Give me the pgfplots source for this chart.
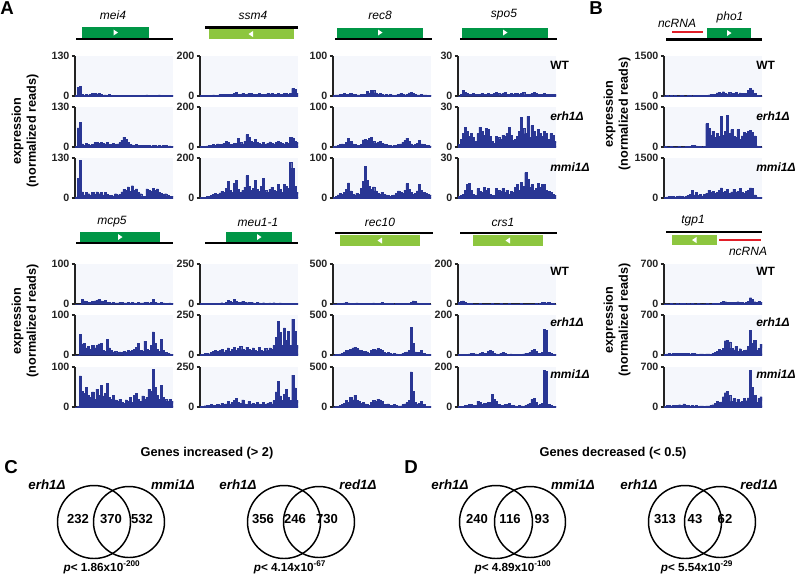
\documentclass[border=0pt]{standalone}
\usepackage{pgfplots}
\usepackage{pgfplotstable}
\pgfplotsset{compat=1.18}
\usepackage{fontspec}
\setmainfont{Liberation Sans}
\definecolor{barblue}{RGB}{41,54,148}
\definecolor{bgc}{RGB}{245,247,252}
\definecolor{dgreen}{RGB}{0,150,70}
\definecolor{lgreen}{RGB}{141,198,63}
\definecolor{ncred}{RGB}{225,30,40}
\definecolor{axc}{RGB}{35,35,35}
\newlength\pxu \setlength\pxu{0.75pt}

% ---------- data (48 bins per track) ----------
\pgfplotstableread[row sep=\\]{y\\2\\28\\32\\6\\3\\5\\4\\5\\8\\9\\7\\8\\6\\3\\4\\2\\5\\2\\2\\3\\2\\2\\3\\2\\2\\2\\3\\2\\2\\2\\3\\2\\2\\2\\4\\2\\2\\2\\2\\2\\4\\2\\2\\2\\2\\2\\2\\1\\}\tMeiA
\pgfplotstableread[row sep=\\]{y\\3\\62\\80\\10\\6\\12\\8\\5\\8\\14\\16\\12\\15\\12\\10\\14\\9\\8\\12\\8\\10\\14\\22\\32\\26\\14\\8\\7\\6\\8\\5\\5\\6\\5\\6\\5\\4\\5\\6\\4\\5\\4\\5\\6\\3\\4\\3\\2\\}\tMeiB
\pgfplotstableread[row sep=\\]{y\\4\\65\\122\\20\\10\\18\\14\\10\\18\\12\\20\\14\\18\\10\\19\\12\\8\\9\\7\\14\\10\\12\\20\\28\\24\\36\\22\\40\\26\\30\\18\\14\\6\\5\\30\\26\\22\\32\\24\\30\\18\\15\\12\\14\\8\\6\\5\\3\\}\tMeiC
\pgfplotstableread[row sep=\\]{y\\2\\2\\3\\3\\4\\5\\6\\5\\4\\8\\10\\8\\7\\9\\10\\8\\12\\20\\10\\8\\12\\10\\8\\14\\12\\9\\8\\10\\12\\9\\8\\10\\12\\9\\14\\10\\8\\12\\9\\10\\14\\12\\10\\15\\38\\32\\12\\6\\}\tSsmA
\pgfplotstableread[row sep=\\]{y\\3\\3\\4\\6\\8\\10\\12\\10\\16\\14\\12\\20\\28\\22\\12\\14\\18\\20\\45\\22\\16\\30\\62\\48\\28\\24\\38\\22\\18\\15\\24\\14\\20\\26\\18\\16\\22\\30\\24\\18\\16\\22\\18\\50\\46\\30\\22\\10\\}\tSsmB
\pgfplotstableread[row sep=\\]{y\\3\\4\\5\\8\\10\\14\\20\\24\\18\\26\\35\\28\\50\\82\\40\\30\\75\\88\\45\\30\\38\\55\\112\\60\\40\\48\\90\\45\\35\\60\\98\\40\\30\\45\\55\\40\\35\\70\\45\\30\\68\\60\\50\\178\\150\\60\\30\\12\\}\tSsmC
\pgfplotstableread[row sep=\\]{y\\2\\3\\3\\4\\5\\6\\5\\4\\7\\5\\4\\3\\3\\4\\5\\4\\12\\8\\14\\15\\8\\5\\6\\4\\3\\4\\3\\5\\3\\2\\3\\4\\6\\5\\3\\4\\8\\10\\6\\4\\3\\3\\4\\3\\3\\2\\2\\1\\}\tRecA
\pgfplotstableread[row sep=\\]{y\\2\\3\\4\\6\\8\\7\\12\\22\\14\\8\\6\\5\\4\\6\\18\\20\\16\\22\\24\\14\\10\\12\\14\\10\\8\\6\\5\\4\\3\\4\\5\\6\\8\\12\\16\\22\\14\\8\\5\\6\\10\\16\\8\\6\\5\\4\\3\\2\\}\tRecB
\pgfplotstableread[row sep=\\]{y\\2\\5\\8\\12\\10\\15\\22\\38\\18\\10\\8\\12\\10\\25\\42\\80\\45\\30\\22\\28\\18\\12\\10\\14\\10\\8\\6\\5\\6\\8\\12\\18\\15\\12\\20\\36\\22\\15\\10\\12\\18\\35\\20\\15\\12\\10\\8\\4\\}\tRecC
\pgfplotstableread[row sep=\\]{y\\0\\1\\4\\3\\2\\1\\1\\2\\1\\1\\1\\2\\1\\1\\2\\1\\1\\2\\3\\2\\1\\2\\3\\1\\1\\2\\1\\2\\2\\1\\2\\3\\1\\1\\1\\2\\3\\2\\1\\1\\1\\2\\1\\1\\1\\1\\1\\0\\}\tSpoA
\pgfplotstableread[row sep=\\]{y\\2\\6\\10\\15\\12\\8\\10\\7\\4\\10\\15\\12\\9\\14\\13\\8\\4\\3\\8\\7\\6\\9\\8\\10\\15\\9\\5\\6\\8\\12\\22\\14\\10\\23\\7\\16\\12\\8\\13\\10\\8\\12\\10\\6\\10\\9\\4\\2\\}\tSpoB
\pgfplotstableread[row sep=\\]{y\\1\\2\\3\\6\\10\\11\\6\\3\\2\\7\\5\\4\\8\\6\\7\\3\\2\\2\\7\\6\\5\\7\\4\\6\\3\\5\\4\\8\\10\\6\\12\\9\\19\\14\\8\\10\\6\\7\\11\\8\\10\\10\\6\\5\\4\\3\\2\\1\\}\tSpoC
\pgfplotstableread[row sep=\\]{y\\0\\0\\0\\12\\8\\6\\5\\4\\6\\8\\10\\12\\8\\6\\10\\5\\4\\3\\4\\3\\3\\4\\5\\3\\3\\4\\3\\5\\3\\2\\4\\3\\3\\5\\4\\3\\4\\12\\5\\3\\2\\4\\3\\2\\2\\3\\2\\0\\}\tMcpA
\pgfplotstableread[row sep=\\]{y\\0\\0\\52\\28\\30\\18\\22\\15\\25\\18\\24\\28\\30\\12\\10\\40\\18\\12\\8\\10\\6\\8\\7\\10\\8\\12\\9\\12\\14\\20\\30\\12\\10\\35\\15\\12\\25\\58\\30\\14\\10\\40\\12\\6\\4\\3\\2\\0\\}\tMcpB
\pgfplotstableread[row sep=\\]{y\\0\\2\\78\\40\\35\\50\\30\\25\\38\\20\\45\\30\\55\\28\\35\\60\\25\\20\\30\\18\\15\\20\\12\\10\\18\\15\\25\\12\\30\\35\\20\\15\\28\\20\\25\\45\\40\\95\\50\\30\\20\\55\\25\\20\\15\\20\\15\\5\\}\tMcpC
\pgfplotstableread[row sep=\\]{y\\3\\4\\4\\5\\4\\5\\6\\5\\6\\5\\8\\6\\10\\25\\15\\12\\28\\15\\10\\12\\18\\10\\8\\12\\9\\8\\6\\10\\7\\6\\8\\6\\5\\7\\6\\8\\5\\6\\7\\5\\4\\6\\5\\4\\3\\4\\3\\2\\}\tMeuA
\pgfplotstableread[row sep=\\]{y\\5\\6\\10\\12\\8\\15\\25\\30\\22\\28\\35\\20\\30\\45\\25\\35\\50\\30\\40\\55\\35\\30\\50\\35\\28\\45\\30\\25\\48\\30\\25\\40\\28\\45\\35\\60\\110\\210\\140\\60\\170\\90\\150\\60\\225\\150\\60\\20\\}\tMeuB
\pgfplotstableread[row sep=\\]{y\\4\\6\\8\\10\\12\\15\\10\\12\\18\\12\\25\\15\\20\\35\\20\\30\\40\\55\\30\\25\\45\\20\\18\\35\\20\\25\\18\\30\\20\\15\\28\\18\\22\\30\\20\\40\\95\\160\\70\\40\\80\\110\\60\\40\\200\\120\\40\\10\\}\tMeuC
\pgfplotstableread[row sep=\\]{y\\2\\3\\5\\8\\10\\15\\18\\15\\10\\12\\8\\15\\12\\6\\5\\4\\8\\6\\10\\15\\12\\10\\8\\20\\12\\6\\5\\4\\5\\3\\4\\5\\6\\4\\5\\8\\10\\20\\40\\30\\15\\10\\8\\6\\5\\4\\3\\2\\}\tRtenA
\pgfplotstableread[row sep=\\]{y\\3\\5\\10\\15\\25\\40\\55\\60\\75\\90\\100\\80\\65\\55\\50\\45\\40\\20\\55\\70\\65\\80\\75\\60\\30\\25\\35\\20\\15\\20\\15\\12\\10\\25\\30\\40\\60\\350\\150\\40\\30\\35\\60\\25\\10\\8\\5\\3\\}\tRtenB
\pgfplotstableread[row sep=\\]{y\\3\\6\\12\\20\\35\\50\\80\\60\\120\\90\\150\\85\\70\\50\\60\\40\\30\\25\\60\\85\\70\\100\\90\\70\\35\\30\\40\\25\\20\\30\\20\\15\\15\\30\\40\\55\\80\\440\\200\\60\\40\\45\\70\\30\\12\\8\\5\\3\\}\tRtenC
\pgfplotstableread[row sep=\\]{y\\8\\14\\16\\10\\4\\2\\2\\1\\1\\1\\2\\1\\1\\1\\1\\1\\2\\1\\1\\1\\2\\1\\1\\1\\2\\1\\1\\1\\1\\1\\2\\1\\1\\1\\1\\1\\1\\2\\1\\2\\8\\7\\6\\8\\4\\2\\1\\1\\}\tCrsA
\pgfplotstableread[row sep=\\]{y\\2\\3\\3\\4\\5\\6\\8\\10\\6\\5\\8\\12\\10\\8\\18\\25\\20\\10\\6\\5\\8\\12\\8\\5\\4\\6\\5\\4\\3\\4\\5\\6\\8\\10\\15\\25\\30\\20\\8\\10\\15\\128\\125\\12\\8\\5\\3\\2\\}\tCrsB
\pgfplotstableread[row sep=\\]{y\\2\\4\\5\\8\\10\\12\\15\\10\\8\\30\\25\\15\\18\\20\\25\\22\\65\\40\\30\\15\\10\\8\\12\\15\\18\\10\\8\\6\\5\\8\\6\\5\\8\\12\\20\\38\\42\\25\\10\\12\\20\\185\\180\\15\\8\\5\\3\\2\\}\tCrsC
\pgfplotstableread[row sep=\\]{y\\10\\12\\8\\15\\10\\12\\8\\10\\14\\10\\8\\12\\15\\10\\12\\20\\25\\15\\12\\20\\25\\40\\60\\50\\70\\120\\150\\90\\160\\110\\80\\140\\90\\100\\130\\80\\120\\90\\100\\110\\200\\280\\230\\100\\30\\15\\10\\8\\}\tPhoA
\pgfplotstableread[row sep=\\]{y\\15\\10\\8\\12\\10\\8\\10\\12\\8\\10\\12\\15\\20\\50\\60\\45\\20\\15\\10\\20\\880\\700\\450\\600\\350\\500\\400\\1150\\450\\600\\1200\\500\\650\\400\\350\\650\\300\\420\\550\\500\\600\\620\\560\\420\\40\\15\\10\\8\\}\tPhoB
\pgfplotstableread[row sep=\\]{y\\20\\40\\60\\50\\70\\40\\60\\80\\50\\40\\60\\100\\150\\280\\120\\200\\100\\150\\80\\130\\180\\300\\200\\260\\180\\220\\300\\380\\200\\250\\320\\180\\230\\330\\200\\260\\350\\200\\180\\250\\300\\380\\350\\120\\40\\30\\20\\10\\}\tPhoC
\pgfplotstableread[row sep=\\]{y\\3\\5\\4\\6\\5\\4\\6\\5\\8\\6\\5\\6\\5\\8\\5\\4\\6\\5\\4\\5\\6\\5\\4\\6\\8\\10\\15\\30\\50\\40\\35\\25\\30\\35\\30\\40\\25\\30\\20\\35\\50\\110\\80\\40\\30\\45\\30\\10\\}\tTgpA
\pgfplotstableread[row sep=\\]{y\\10\\20\\25\\20\\30\\25\\35\\30\\25\\35\\30\\25\\20\\30\\25\\20\\15\\18\\20\\15\\18\\20\\15\\30\\50\\70\\100\\80\\120\\250\\260\\230\\120\\90\\150\\70\\110\\60\\80\\90\\150\\430\\200\\260\\80\\120\\190\\60\\}\tTgpB
\pgfplotstableread[row sep=\\]{y\\15\\25\\30\\20\\35\\25\\30\\40\\30\\55\\30\\25\\20\\30\\20\\25\\15\\20\\18\\15\\20\\22\\30\\40\\60\\100\\80\\90\\180\\250\\270\\200\\100\\150\\80\\140\\90\\100\\150\\110\\160\\640\\350\\200\\80\\150\\180\\60\\}\tTgpC

\pgfplotsset{trk/.style={
  scale only axis, width=98\pxu, height=40\pxu, anchor=north west,
  xmin=0, xmax=47, ymin=0,
  axis x line*=bottom, axis y line*=left,
  axis line style={-, line width=1.1pt, axc},
  xtick=\empty,
  tick align=outside, major tick length=2.5pt,
  ytick style={line width=0.8pt, axc},
  yticklabel style={font=\bfseries\fontsize{8}{9}\selectfont, inner sep=1.5pt, text=axc},
  axis background/.style={fill=bgc},
  clip=true,
}}
\newcommand{\trk}[4]{%
\begin{axis}[trk, at={(#1\pxu,-#2\pxu)}, ymax=#3, ytick={0,#3}, yticklabels={0,#3}]
\addplot[const plot, fill=barblue, draw=barblue, line width=0.3pt] table[x expr=\coordindex, y index=0] {#4} \closedcycle;
\end{axis}}

\begin{document}
\begin{tikzpicture}
\useasboundingbox (0,0) rectangle (600pt,-432pt);
% ----- Panel A top -----
\trk{75}{56}{130}{\tMeiA}\trk{75}{107}{130}{\tMeiB}\trk{75}{158}{130}{\tMeiC}
\trk{200}{56}{200}{\tSsmA}\trk{200}{107}{200}{\tSsmB}\trk{200}{158}{200}{\tSsmC}
\trk{333}{56}{100}{\tRecA}\trk{333}{107}{100}{\tRecB}\trk{333}{158}{100}{\tRecC}
\trk{458}{56}{30}{\tSpoA}\trk{458}{107}{30}{\tSpoB}\trk{458}{158}{30}{\tSpoC}
% ----- Panel A bottom -----
\trk{75}{264}{100}{\tMcpA}\trk{75}{315}{100}{\tMcpB}\trk{75}{367}{100}{\tMcpC}
\trk{200}{264}{250}{\tMeuA}\trk{200}{315}{250}{\tMeuB}\trk{200}{367}{250}{\tMeuC}
\trk{333}{264}{500}{\tRtenA}\trk{333}{315}{500}{\tRtenB}\trk{333}{367}{500}{\tRtenC}
\trk{458}{264}{200}{\tCrsA}\trk{458}{315}{200}{\tCrsB}\trk{458}{367}{200}{\tCrsC}
% ----- Panel B -----
\trk{664}{56}{1500}{\tPhoA}\trk{664}{107}{1500}{\tPhoB}\trk{664}{158}{1500}{\tPhoC}
\trk{664}{264}{700}{\tTgpA}\trk{664}{315}{700}{\tTgpB}\trk{664}{367}{700}{\tTgpC}

\begin{scope}[x=\pxu, y=-\pxu]
% panel letters
\foreach \L/\xx/\yy in {A/7/8, B/596/8, C/11/467, D/411/467}
  \node[font=\bfseries\fontsize{14}{15}\selectfont] at (\xx,\yy) {\L};
% y labels
\tikzset{ylab/.style={rotate=90, align=center, font=\bfseries\fontsize{9.5}{11.25}\selectfont}}
\node[ylab] at (25,131) {expression\\(normalized reads)};
\node[ylab] at (25,321) {expression\\(normalized reads)};
\node[ylab] at (617,114) {expression\\(normalized reads)};
\node[ylab] at (617,320) {expression\\(normalized reads)};
% gene models
\tikzset{gl/.style={font=\itshape\fontsize{9}{10}\selectfont},
  ar/.pic={\fill[white] (-2,-3) -- (2.5,0) -- (-2,3) -- cycle;},
  al/.pic={\fill[white] (2,-3) -- (-2.5,0) -- (2,3) -- cycle;}}
% mei4
\fill[dgreen] (82,27) rectangle (149,37.5); \draw[line width=1.6pt] (76,39)--(173,39);
\pic at (115.5,32.5) {ar}; \node[gl] at (113,15) {mei4};
% ssm4
\draw[line width=1.6pt] (205,27.5)--(298,27.5); \fill[lgreen] (209,29) rectangle (294,39);
\pic at (251,34) {al}; \node[gl] at (253,15) {ssm4};
% rec8
\fill[dgreen] (337,28) rectangle (423,37.5); \draw[line width=1.6pt] (335,39)--(432,39);
\pic at (380,32.5) {ar}; \node[gl] at (380,15) {rec8};
% spo5
\fill[dgreen] (462,28) rectangle (548,37.5); \draw[line width=1.6pt] (460,39)--(557,39);
\pic at (505,32.5) {ar}; \node[gl] at (504,15) {spo5};
% mcp5
\fill[dgreen] (80,232) rectangle (160,242); \draw[line width=1.6pt] (76,243)--(173,243);
\pic at (120,237) {ar}; \node[gl] at (112,222) {mcp5};
% meu1-1
\fill[dgreen] (226,232) rectangle (292,242); \draw[line width=1.6pt] (205,243)--(298,243);
\pic at (259,237) {ar}; \node[gl] at (258,222) {meu1-1};
% rec10
\draw[line width=1.6pt] (335,233)--(433,233); \fill[lgreen] (340,235) rectangle (420,246);
\pic at (380,240.5) {al}; \node[gl] at (380,222) {rec10};
% crs1
\draw[line width=1.6pt] (460,233)--(557,233); \fill[lgreen] (473,235) rectangle (543,246);
\pic at (508,240.5) {al}; \node[gl] at (503,222) {crs1};
% pho1
\draw[ncred, line width=1.5pt] (672,32)--(703,32);
\fill[dgreen] (707,28) rectangle (751,39); \draw[line width=1.6pt] (666,39.5)--(762,39.5);
\pic at (729,33) {ar}; \node[gl] at (730,17) {pho1}; \node[gl] at (677,23) {ncRNA};
% tgp1
\draw[line width=1.6pt] (666,232)--(762,232); \fill[lgreen] (672,234.5) rectangle (717,245);
\draw[ncred, line width=1.5pt] (719,240)--(761,240);
\pic at (694.5,240) {al}; \node[gl] at (693,221) {tgp1}; \node[gl] at (748,251) {ncRNA};
% strain labels
\tikzset{sl/.style={anchor=west, inner sep=0pt, font=\bfseries\fontsize{9}{10}\selectfont}}
\foreach \xx in {550,756}{
  \node[sl] at (\xx,65) {WT}; \node[sl] at (\xx,116) {\textit{erh1Δ}}; \node[sl] at (\xx,167) {\textit{mmi1Δ}};
  \node[sl] at (\xx,271) {WT}; \node[sl] at (\xx,322) {\textit{erh1Δ}}; \node[sl] at (\xx,374) {\textit{mmi1Δ}};
}
% Venn diagrams
\tikzset{vt/.style={font=\bfseries\fontsize{9.6}{11}\selectfont},
  vl/.style={font=\bfseries\itshape\fontsize{10}{11}\selectfont},
  vp/.style={font=\bfseries\fontsize{8.8}{10}\selectfont},
  vn/.style={font=\bfseries\fontsize{9.8}{11}\selectfont},
  vc/.style={line width=1.1pt}}
\node[vt] at (207,453) {Genes increased (> 2)};
\node[vt] at (613,453) {Genes decreased (< 0.5)};
% C1
\draw[vc] (94,522) circle (36.5); \draw[vc] (129,522) circle (35.5);
\node[vl] at (47,485) {erh1Δ}; \node[vl] at (173,485) {mmi1Δ};
\node[vn] at (78,519) {232}; \node[vn] at (111,519) {370}; \node[vn] at (142,519) {532};
\node[vp] at (102,567) {\textit{p}< 1.86x10\textsuperscript{-200}};
% C2
\draw[vc] (284,522) circle (36.5); \draw[vc] (319,522) circle (35.5);
\node[vl] at (238,485) {erh1Δ}; \node[vl] at (358,485) {red1Δ};
\node[vn] at (263,519) {356}; \node[vn] at (295,519) {246}; \node[vn] at (327,519) {730};
\node[vp] at (290,567) {\textit{p}< 4.14x10\textsuperscript{-67}};
% D1
\draw[vc] (496,522) circle (36.5); \draw[vc] (530,522) circle (35.5);
\node[vl] at (450,485) {erh1Δ}; \node[vl] at (573,485) {mmi1Δ};
\node[vn] at (477,519) {240}; \node[vn] at (510,519) {116}; \node[vn] at (542,519) {93};
\node[vp] at (513,567) {\textit{p}< 4.89x10\textsuperscript{-100}};
% D2
\draw[vc] (685,522) circle (36.5); \draw[vc] (720,522) circle (35.5);
\node[vl] at (639,485) {erh1Δ}; \node[vl] at (759,485) {red1Δ};
\node[vn] at (665,519) {313}; \node[vn] at (695,519) {43}; \node[vn] at (725,519) {62};
\node[vp] at (697,567) {\textit{p}< 5.54x10\textsuperscript{-29}};
\end{scope}
\end{tikzpicture}
\end{document}
